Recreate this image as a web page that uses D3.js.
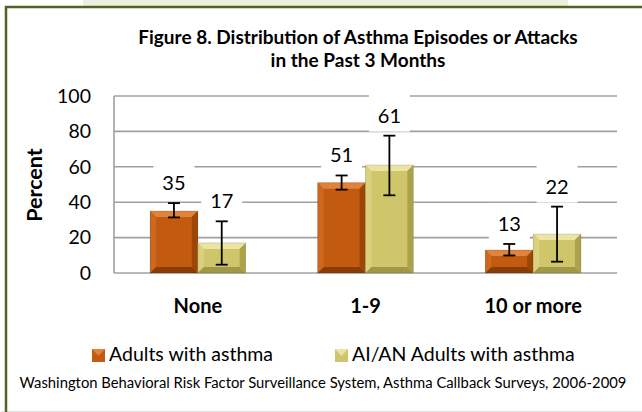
<!DOCTYPE html>
<html>
<head>
<meta charset="utf-8">
<script src="https://cdn.jsdelivr.net/npm/d3@7"></script>
<style>
  body { margin: 0; background: #fff; }
  text { font-family: Lato, "Noto Sans", sans-serif; fill: #000; }
</style>
</head>
<body>
<div id="chart"></div>
<script>
// chart data
const categories = ["None", "1-9", "10 or more"];
const seriesNames = ["Adults with asthma", "AI/AN Adults with asthma"];
const adultsValues = [35, 51, 13];
const adultsLow = [31.4, 47.1, 9.9];
const adultsHigh = [39.5, 55.1, 16.4];
const aianValues = [17, 61, 22];
const aianLow = [4.7, 43.9, 6.4];
const aianHigh = [29.2, 77.6, 37.5];
const yTicks = [0, 20, 40, 60, 80, 100];

const W = 642, H = 412;
var margin = { top: 96, left: 114, right: 25, bottom: 139 };
var width = W - margin.left - margin.right;
var height = H - margin.top - margin.bottom;

const svg = d3.select("#chart").append("svg")
    .attr("width", W)
    .attr("height", H);

// frame decoration
svg.append("rect").attr("x", 83).attr("y", 0).attr("width", 485).attr("height", 6).attr("fill", "#ebf1de");
svg.append("line").attr("x1", 1).attr("x2", 642).attr("y1", 411.5).attr("y2", 411.5).attr("stroke", "#e4e4e4");
svg.append("path").attr("d", "M6,412 V7 H642").attr("fill", "none").attr("stroke", "#4f6228").attr("stroke-width", 2.5);

// title
svg.append("text").attr("x", 358).attr("y", 44).attr("text-anchor", "middle")
    .attr("font-weight", "bold").attr("font-size", 19).text("Figure 8. Distribution of Asthma Episodes or Attacks");
svg.append("text").attr("x", 358).attr("y", 67).attr("text-anchor", "middle")
    .attr("font-weight", "bold").attr("font-size", 19).text("in the Past 3 Months");

const g = svg.append("g").attr("transform", "translate(" + margin.left + "," + margin.top + ")");

const x = d3.scaleBand().domain(categories).range([0, width]).paddingInner(0.43).paddingOuter(0.215);
const xs = d3.scaleBand().domain(seriesNames).range([0, x.bandwidth()]);
const y = d3.scaleLinear().domain([0, 100]).range([height, 0]);

// gridlines
g.append("g").selectAll("line").data(yTicks).enter().append("line")
    .attr("x1", 0).attr("x2", width)
    .attr("y1", d => y(d)).attr("y2", d => y(d))
    .attr("stroke", "#a0a0a0").attr("stroke-width", 1.6);
g.append("line").attr("x1", 0).attr("x2", 0).attr("y1", 0).attr("y2", height)
    .attr("stroke", "#a0a0a0").attr("stroke-width", 1.6);

// y axis labels
const yAxis = g.append("g").call(d3.axisLeft(y).tickValues(yTicks).tickSize(0).tickPadding(23));
yAxis.select(".domain").remove();
yAxis.selectAll("text").attr("font-size", 19.5).attr("font-family", "Lato, sans-serif");

svg.append("text").attr("transform", "translate(42,185) rotate(-90)").attr("text-anchor", "middle")
    .attr("font-weight", "bold").attr("font-size", 21.5).text("Percent");

// x labels
g.append("g").selectAll("text").data(categories).enter().append("text")
    .attr("x", d => x(d) + x.bandwidth() / 2).attr("y", height + 40)
    .attr("text-anchor", "middle").attr("font-weight", "bold").attr("font-size", 20)
    .text(d => d);

const palette = [
    { main: "#c25a10", top: "#e0833c", left: "#cc6820", right: "#9c4607", bottom: "#8a3c05" },
    { main: "#cfc66c", top: "#ebe4a2", left: "#d9d17e", right: "#aba24a", bottom: "#a09846" }
];

const rows = categories.flatMap((c, i) => [
    { cat: c, s: 0, value: adultsValues[i], lo: adultsLow[i], hi: adultsHigh[i] },
    { cat: c, s: 1, value: aianValues[i], lo: aianLow[i], hi: aianHigh[i] }
]);

// bevelled bars
const bar = g.append("g").selectAll("g").data(rows).enter().append("g")
    .attr("transform", d => "translate(" + (x(d.cat) + xs(seriesNames[d.s])) + "," + y(d.value) + ")");
const bev = 6;
bar.each(function (d) {
    const w = xs.bandwidth(), h = y(0) - y(d.value), c = palette[d.s], b = Math.min(bev, h / 2);
    const s = d3.select(this);
    s.append("rect").attr("width", w).attr("height", h).attr("fill", c.main);
    s.append("path").attr("d", `M0,0 H${w} L${w - b},${b} H${b} Z`).attr("fill", c.top);
    s.append("path").attr("d", `M0,0 L${b},${b} V${h - b} L0,${h} Z`).attr("fill", c.left);
    s.append("path").attr("d", `M${w},0 L${w - b},${b} V${h - b} L${w},${h} Z`).attr("fill", c.right);
    s.append("path").attr("d", `M0,${h} L${b},${h - b} H${w - b} L${w},${h} Z`).attr("fill", c.bottom);
    s.append("rect").attr("width", w).attr("height", h).attr("fill", "none").attr("stroke", "rgba(0,0,0,0.12)");
});

// value labels with white boxes (drawn before error bars so bars stay on top)
const lab = g.append("g").selectAll("g").data(rows).enter().append("g")
    .attr("transform", d => "translate(" + (x(d.cat) + xs(seriesNames[d.s]) + xs.bandwidth() / 2) + "," + (y(d.hi) - 13) + ")");
lab.append("rect").attr("x", -20.5).attr("y", -28).attr("width", 41).attr("height", 37).attr("fill", "#fff");
lab.append("text").attr("text-anchor", "middle").attr("font-size", 20).text(d => d.value);

// error bars
const err = g.append("g").attr("stroke", "#000").attr("stroke-width", 1.8);
rows.forEach(d => {
    const cx = x(d.cat) + xs(seriesNames[d.s]) + xs.bandwidth() / 2;
    err.append("line").attr("x1", cx).attr("x2", cx).attr("y1", y(d.lo)).attr("y2", y(d.hi));
    err.append("line").attr("x1", cx - 6).attr("x2", cx + 6).attr("y1", y(d.lo)).attr("y2", y(d.lo));
    err.append("line").attr("x1", cx - 6).attr("x2", cx + 6).attr("y1", y(d.hi)).attr("y2", y(d.hi));
});

// legend
const legend = svg.append("g").attr("transform", "translate(0,355)");
const legX = [92, 335];
seriesNames.forEach((n, i) => {
    const c = palette[i];
    const lg = legend.append("g").attr("transform", "translate(" + legX[i] + ",0)");
    lg.append("rect").attr("x", 0).attr("y", -6).attr("width", 13).attr("height", 13).attr("fill", c.main);
    lg.append("path").attr("d", "M0,-6 H13 L6.5,1 Z").attr("fill", c.top);
    lg.append("text").attr("x", 17).attr("y", 6).attr("font-size", 19.5).text(n);
});

// source note
svg.append("text").attr("x", 323).attr("y", 388).attr("text-anchor", "middle").attr("font-size", 14.8)
    .text("Washington Behavioral Risk Factor Surveillance System, Asthma Callback Surveys, 2006-2009");
</script>
</body>
</html>
